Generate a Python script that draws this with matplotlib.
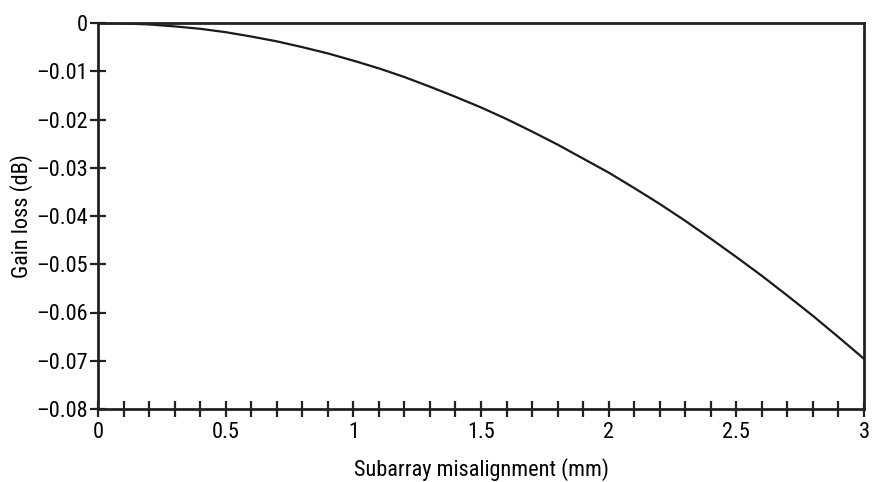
import matplotlib
matplotlib.use("Agg")
import matplotlib.pyplot as plt
from matplotlib.ticker import MultipleLocator, FuncFormatter

plt.rcParams['font.family'] = ['Roboto Condensed', 'Archivo Narrow', 'DejaVu Sans']

# misalignment (mm) and gain loss (dB)
misalign = [0, 0.1, 0.2, 0.3, 0.4, 0.5, 0.6, 0.7, 0.8, 0.9, 1.0,
            1.1, 1.2, 1.3, 1.4, 1.5, 1.6, 1.7, 1.8, 1.9, 2.0,
            2.1, 2.2, 2.3, 2.4, 2.5, 2.6, 2.7, 2.8, 2.9, 3.0]
gain_loss = [0, -0.0001, -0.0003, -0.0007, -0.0012, -0.0019, -0.0028,
             -0.0038, -0.005, -0.0063, -0.0078, -0.0094, -0.0112,
             -0.0132, -0.0153, -0.0175, -0.0199, -0.0225, -0.0252,
             -0.0281, -0.031, -0.0342, -0.0375, -0.041, -0.0447,
             -0.0485, -0.0524, -0.0565, -0.0607, -0.0651, -0.0696]

x_ticks = [0, 0.5, 1, 1.5, 2, 2.5, 3]
x_labels = ['0', '0.5', '1', '1.5', '2', '2.5', '3']
y_ticks = [0, -0.01, -0.02, -0.03, -0.04, -0.05, -0.06, -0.07, -0.08]

fig = plt.figure(figsize=(8.75, 4.82), dpi=100)
ax = fig.add_axes([98 / 875, 1 - 409 / 482, (864 - 98) / 875, (409 - 23) / 482])

ax.plot(misalign, gain_loss, color='#1a1a1a', linewidth=1.6)

ax.set_xlim(0, 3)
ax.set_ylim(-0.08, 0)

ax.set_xticks(x_ticks)
ax.set_xticklabels(x_labels)
ax.xaxis.set_minor_locator(MultipleLocator(0.1))
ax.set_yticks(y_ticks)
ax.yaxis.set_major_formatter(FuncFormatter(lambda v, p: '0' if abs(v) < 1e-9 else ('\u2013%.2f' % abs(v))))

ax.tick_params(which='both', direction='inout', length=11, width=1.6, color='#222222',
               labelsize=16, pad=2)
ax.tick_params(axis='x', which='both', top=False, pad=4)
ax.tick_params(axis='y', right=False)

for s in ax.spines.values():
    s.set_linewidth(2)
    s.set_color('#222222')

ax.set_xlabel('Subarray misalignment (mm)', fontsize=16, labelpad=11)
ax.set_ylabel('Gain loss (dB)', fontsize=16, labelpad=2)

fig.savefig('out.png', dpi=100)
